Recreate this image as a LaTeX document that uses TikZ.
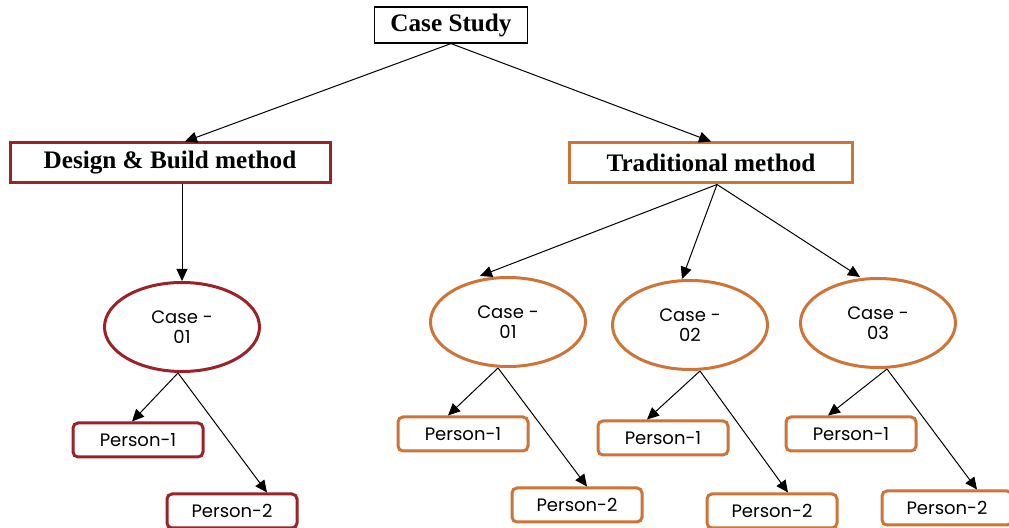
\documentclass[tikz,border=0pt]{standalone}
\usepackage{fontspec}
\setmainfont{Liberation Serif}
\newfontfamily\gothic{Poppins}
\usetikzlibrary{arrows.meta, positioning, shapes.geometric}
\definecolor{dbred}{RGB}{155,35,40}
\definecolor{tradorange}{RGB}{208,115,55}

\begin{document}
\begin{tikzpicture}[x=0.5pt, y=-0.5pt,
    head/.style={draw, line width=1.5pt, minimum height=20pt, inner sep=0pt, font=\fontsize{12.6}{15}\selectfont\bfseries},
    casenode/.style={ellipse, draw, line width=1.5pt, minimum width=77.5pt, minimum height=44.5pt, inner sep=0pt, align=center, font=\gothic\fontsize{9}{10}\selectfont},
    person/.style={draw, rounded corners=2.5pt, line width=1.5pt, minimum width=65pt, minimum height=17pt, inner sep=0pt, font=\gothic\fontsize{9}{10}\selectfont},
    link/.style={-{Triangle[length=6pt, width=5.5pt]}, line width=0.5pt}
  ]
    \useasboundingbox (0,0) rectangle (1009,528);
    % top
    \node[draw, line width=0.6pt, minimum width=76.5pt, minimum height=18pt, inner sep=0pt, font=\fontsize{12.6}{15}\selectfont\bfseries] (cs) at (451,25) {Case Study};
    \node[head, draw=dbred, minimum width=160pt] (dbm) at (170,163) {Design \& Build method};
    \node[head, draw=tradorange, minimum width=141.5pt] (trm) at (711,163) {Traditional method};

    % cases
    \node[casenode, draw=dbred] (d1) at (182,327) {Case -\\01};
    \node[casenode, draw=tradorange] (t1) at (508,322) {Case -\\01};
    \node[casenode, draw=tradorange] (t2) at (690,325) {Case -\\02};
    \node[casenode, draw=tradorange] (t3) at (878,323) {Case -\\03};

    % persons
    \node[person, draw=dbred] (d1a) at (138,440) {Person-1};
    \node[person, draw=dbred] (d1b) at (232,511) {Person-2};
    \node[person, draw=tradorange] (t1a) at (463,434) {Person-1};
    \node[person, draw=tradorange] (t1b) at (577,505) {Person-2};
    \node[person, draw=tradorange] (t2a) at (663,438) {Person-1};
    \node[person, draw=tradorange] (t2b) at (772,511) {Person-2};
    \node[person, draw=tradorange] (t3a) at (851,434) {Person-1};
    \node[person, draw=tradorange] (t3b) at (947,508) {Person-2};

    % arrows
    \draw[link] (cs.south) -- ([xshift=7.5pt]dbm.north);
    \draw[link] (cs.south) -- (trm.north);
    \draw[link] (d1.north |- dbm.south) -- (d1.north);
    \draw[link] ([xshift=3pt]trm.south) -- ([xshift=-14pt]t1.north);
    \draw[link] ([xshift=3pt]trm.south) -- ([xshift=-4pt]t2.north);
    \draw[link] ([xshift=3pt]trm.south) -- ([xshift=-9pt]t3.north);

    \draw[link] ([xshift=-2pt]d1.south) -- ([xshift=-3pt]d1a.north);
    \draw[link] ([xshift=-2pt]d1.south) -- ([xshift=17.5pt]d1b.north);
    \draw[link] ([xshift=-5pt]t1.south) -- ([xshift=-7.5pt]t1a.north);
    \draw[link] ([xshift=-5pt]t1.south) -- ([xshift=5pt]t1b.north);
    \draw[link] ([xshift=5pt]t2.south) -- ([xshift=-8pt]t2a.north);
    \draw[link] ([xshift=5pt]t2.south) -- ([xshift=8pt]t2b.north);
    \draw[link] ([xshift=4.5pt]t3.south) -- ([xshift=-11.5pt]t3a.north);
    \draw[link] ([xshift=4.5pt]t3.south) -- ([xshift=15pt]t3b.north);
\end{tikzpicture}
\end{document}
